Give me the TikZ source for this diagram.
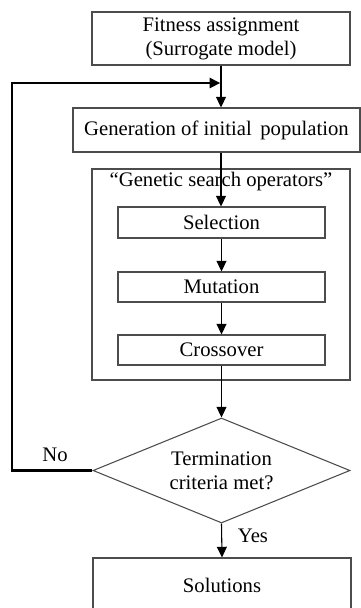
\documentclass[tikz,border=0pt]{standalone}
\usepackage{fontspec}
\setmainfont{Liberation Serif}
\usetikzlibrary{arrows.meta,shapes.geometric}
\begin{document}
\begin{tikzpicture}[x=0.75pt,y=-0.75pt,
  every node/.style={font=\fontsize{15.5pt}{18pt}\selectfont},
  box/.style={draw=black!70,line width=0.8pt,rectangle,inner sep=0pt,align=center},
  link/.style={line width=0.8pt,-{Triangle[width=7.5pt,length=8pt]}},
  loopline/.style={line width=1.6pt,-{Triangle[width=7.5pt,length=8pt]}}]
\useasboundingbox (0,0) rectangle (361,608);

% main blocks
\node[box,minimum width=193.5pt,minimum height=39.75pt] (fit) at (221,38.5)
  {Fitness assignment\\(Surrogate model)};
\node[box,minimum width=215.25pt,minimum height=33pt] (gen) at (216.5,130)
  {Generation of initial\ \,population};
\node[box,minimum width=193.5pt,minimum height=158.25pt] (ops) at (221,274.5) {};
\node[anchor=north,inner sep=0pt] (opslabel) at ([yshift=-2.5pt]ops.north)
  {``Genetic search operators''};
\node[box,minimum width=155.25pt,minimum height=23.25pt] (sel) at (221.5,222.5) {Selection};
\node[box,minimum width=155.25pt,minimum height=22.5pt] (mut) at (221.5,287) {Mutation};
\node[box,minimum width=155.25pt,minimum height=22.5pt] (cro) at (221.5,350) {Crossover};
\node[box,shape=diamond,shape aspect=2.45,minimum width=192.75pt,minimum height=78.75pt]
  (dia) at (221.5,470.5) {Termination\\criteria met?};
\node[box,minimum width=193.5pt,minimum height=40.5pt] (sol) at (222,585) {Solutions};

% connectors
\coordinate (join) at (221,83);
\coordinate (c1) at (12,470.5);
\coordinate (c2) at (12,83);
\draw[line width=0.8pt] (fit.south) -- (join);
\draw[link] (join) -- (join |- gen.north);
\draw[link] (join |- gen.south) -- (join |- sel.north);
\draw[link] (sel) -- (mut);
\draw[link] (mut) -- (cro);
\draw[link] (cro.south) -- (dia.north);
\draw[link] (dia.south) -- (sol.north);
\draw[loopline] (dia.west) -- (c1) -- (c2) -- ([xshift=-0.5pt]join);

% branch labels
\node (no) at (55,455) {No};
\node (yes) at (253,536) {Yes};
\end{tikzpicture}
\end{document}
